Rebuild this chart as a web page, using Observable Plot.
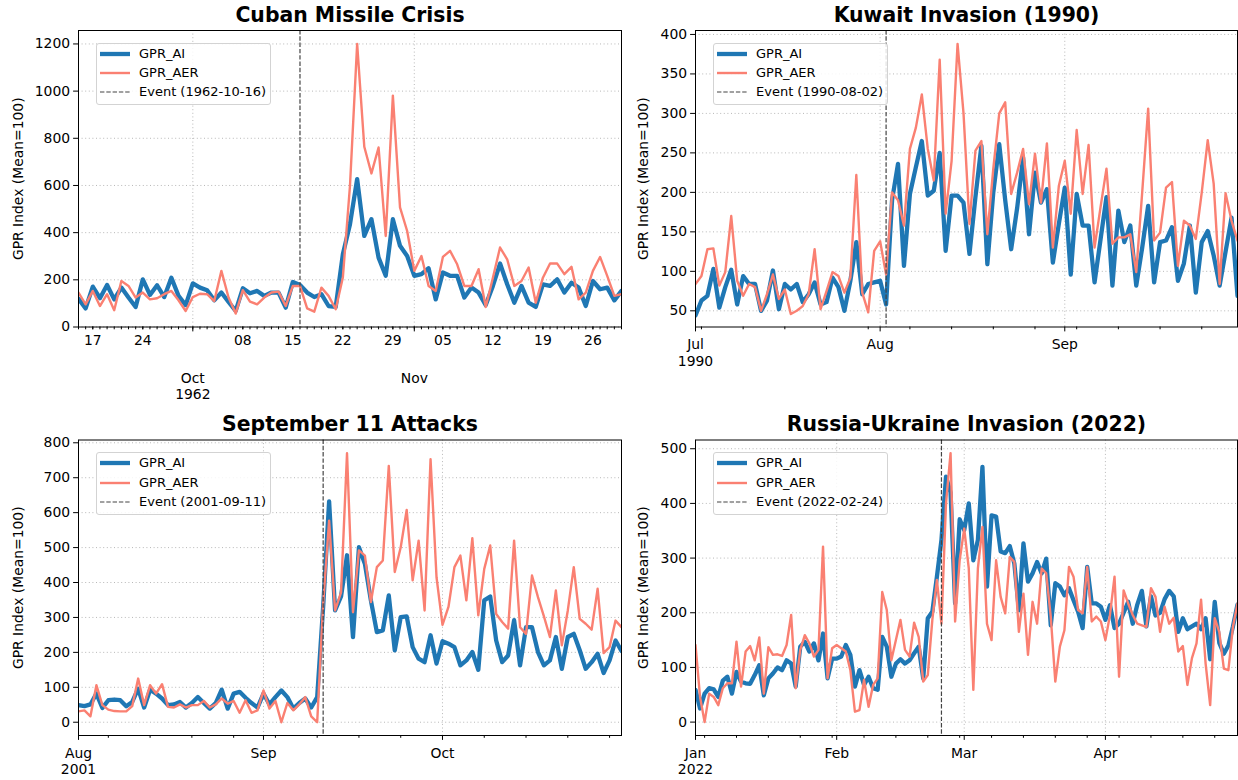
<!DOCTYPE html>
<html>
<head>
<meta charset="utf-8">
<script src="https://cdn.jsdelivr.net/npm/d3@7"></script>
<script src="https://cdn.jsdelivr.net/npm/@observablehq/plot@0.6"></script>
<style>
  body { margin: 0; background: #fff; font-family: "DejaVu Sans", sans-serif; }
  #fig { position: relative; width: 1238px; height: 780px; overflow: hidden; background: #fff; }
  .panel { position: absolute; }
  .legend { position: absolute; background: rgba(255,255,255,0.85); border: 1px solid #d3d3d3; border-radius: 3px; box-sizing: border-box; }
  .legend .row { position: absolute; left: 0; height: 18px; width: 100%; }
  .legend svg { position: absolute; left: 3px; top: 4px; }
  .legend span { position: absolute; left: 42px; top: 0; font-size: 13px; line-height: 18px; color: #000; white-space: nowrap; }
</style>
</head>
<body>
<div id="fig"></div>
<script>
// ---------------- data ----------------
// Cuban Missile Crisis: daily values from 1962-09-15
const cubanStart = "1962-09-15";
const cubanEvent = "1962-10-16";
const cubanAI = [120, 79, 171, 122, 178, 117, 167, 125, 85, 202, 136, 177, 127, 209, 132, 93, 185, 167, 156, 113, 146, 106, 68, 164, 143, 153, 132, 146, 146, 82, 191, 178, 146, 127, 139, 89, 85,
  308, 436, 627, 386, 457, 294, 217, 457, 344, 301, 217, 224, 249, 117, 231, 217, 217, 125, 167, 146, 93, 174, 269, 181, 103, 174, 103, 85, 181, 174, 202, 146, 188, 167, 89, 195, 160, 167, 113, 153];
const cubanAER = [146, 96, 153, 89, 139, 71, 195, 174, 125, 146, 117, 122, 139, 153, 113, 68, 127, 141, 139, 110, 238, 125, 57, 156, 108, 96, 125, 146, 150, 89, 174, 174, 79, 65, 167, 132, 75,
  210, 600, 1200, 764, 651, 761, 386, 981, 507, 407, 238, 301, 174, 153, 297, 323, 266, 174, 174, 245, 85, 209, 337, 287, 174, 195, 252, 103, 209, 269, 269, 224, 255, 117, 146, 238, 297, 217, 132, 139];

// Kuwait Invasion: daily values from 1990-07-01
const kuwaitStart = "1990-07-01";
const kuwaitEvent = "1990-08-02";
const kuwaitAI = [44, 63, 69, 103, 54, 80, 102, 58, 94, 84, 84, 50, 63, 101, 52, 84, 77, 84, 61, 71, 86, 58, 61, 92, 80, 50, 88, 137, 71, 84, 86, 88, 58, 190, 236, 107, 198, 232, 265, 196, 202, 250, 126,
  196, 196, 187, 122, 194, 259, 109, 200, 261, 190, 128, 180, 244, 147, 225, 187, 204, 111, 160, 206, 96, 198, 158, 158, 86, 140, 194, 82, 177, 137, 158, 82, 130, 183, 86, 137, 139, 156, 88, 110, 158, 73, 137, 151, 120, 82, 125, 168, 69];
const kuwaitAER = [84, 94, 128, 129, 82, 99, 170, 88, 69, 84, 80, 50, 71, 96, 65, 77, 46, 50, 56, 71, 128, 52, 75, 99, 94, 73, 92, 222, 73, 48, 126, 138, 96, 200, 190, 158, 255, 282, 324, 255, 215, 368, 173,
  240, 388, 300, 160, 253, 265, 147, 230, 300, 314, 198, 225, 255, 185, 249, 187, 262, 130, 208, 240, 173, 279, 198, 260, 130, 181, 230, 135, 143, 143, 147, 99, 200, 306, 139, 149, 206, 213, 107, 164, 158, 141, 200, 266, 211, 84, 199, 164, 139];

// September 11 Attacks: daily values from 2001-08-01
const sept11Start = "2001-08-01";
const sept11Event = "2001-09-11";
const sept11AI = [49, 46, 51, 82, 41, 63, 65, 63, 46, 58, 96, 42, 93, 82, 68, 49, 51, 58, 42, 55, 72, 55, 39, 55, 93, 39, 82, 87, 70, 55, 42, 82, 51, 72, 91, 72, 39, 55, 68, 42, 72, 330, 632, 320, 360, 478,
  244, 501, 453, 349, 258, 263, 363, 206, 301, 303, 215, 182, 172, 249, 168, 232, 225, 215, 163, 177, 201, 150, 349, 360, 234, 172, 191, 292, 163, 272, 272, 201, 163, 177, 244, 153, 244, 253, 206, 153, 172, 196, 141, 177, 234, 204];
const sept11AER = [31, 34, 17, 106, 49, 36, 32, 31, 31, 46, 125, 49, 106, 82, 109, 44, 42, 51, 42, 49, 49, 61, 42, 51, 68, 53, 61, 27, 63, 27, 34, 91, 39, 61, 0, 55, 34, 51, 72, 17, 0, 339, 577, 320, 372, 770,
  315, 492, 477, 344, 444, 463, 734, 430, 501, 608, 406, 520, 320, 753, 415, 279, 330, 444, 477, 349, 527, 306, 439, 506, 310, 287, 268, 520, 272, 253, 420, 358, 303, 244, 377, 220, 320, 444, 296, 282, 265, 382, 198, 215, 291, 272];

// Russia-Ukraine Invasion: daily values from 2022-01-01
const russiaStart = "2022-01-01";
const russiaEvent = "2022-02-24";
const russiaAI = [59, 25, 52, 62, 60, 46, 76, 83, 52, 92, 74, 71, 70, 86, 104, 49, 80, 89, 100, 95, 113, 107, 65, 138, 147, 129, 144, 113, 162, 80, 116, 116, 120, 141, 123, 65, 95, 68, 83, 62, 59, 156, 138, 83, 107, 115, 107, 113, 126, 138, 80, 190, 202, 266, 333, 449, 420, 217, 371,
  351, 400, 296, 333, 467, 248, 378, 376, 312, 309, 322, 290, 205, 327, 257, 272, 293, 272, 299, 177, 254, 248, 232, 245, 223, 202, 172, 284, 217, 217, 211, 187, 214, 172, 180, 200, 220, 180, 215, 240, 175, 230, 195, 200, 225, 240, 230, 165, 190, 170, 175, 180, 170, 190, 115, 220, 145, 125, 140, 175, 215];
const russiaAER = [141, 46, 0, 52, 46, 31, 62, 71, 71, 147, 65, 129, 139, 113, 155, 52, 137, 123, 124, 121, 141, 196, 62, 132, 159, 144, 120, 132, 321, 80, 135, 141, 135, 129, 95, 19, 22, 77, 28, 68, 80, 238, 205, 113, 150, 187, 132, 120, 182, 156, 74, 86, 187, 260, 180, 400, 492, 184, 296,
  354, 281, 59, 281, 357, 180, 150, 296, 229, 199, 302, 293, 165, 235, 123, 220, 180, 281, 272, 193, 74, 138, 168, 284, 266, 205, 199, 284, 184, 193, 184, 150, 196, 266, 83, 241, 217, 196, 180, 177, 174, 245, 229, 165, 211, 180, 191, 129, 139, 68, 117, 144, 224, 107, 31, 190, 165, 98, 95, 174, 217];

// ---------------- chart ----------------
const BLUE = "#1f77b4", SALMON = "#fa8072", EVENT = "#444444";
const utc = s => new Date(s + "T00:00:00Z");

const panels = [
  {title: "Cuban Missile Crisis", start: cubanStart, event: cubanEvent, ai: cubanAI, aer: cubanAER,
   yDomain: [0, 1257], yTicks: [0, 200, 400, 600, 800, 1000, 1200], daily: true, monthPad: 39,
   box: {left: 0, top: 0, width: 630, height: 410, mt: 30, mb: 83.5, ml: 78, mr: 9}, labelDx: -60},
  {title: "Kuwait Invasion (1990)", start: kuwaitStart, event: kuwaitEvent, ai: kuwaitAI, aer: kuwaitAER,
   yDomain: [29.5, 405], yTicks: [50, 100, 150, 200, 250, 300, 350, 400], daily: false, monthPad: 5.5,
   box: {left: 630, top: 0, width: 608, height: 410, mt: 30, mb: 83.5, ml: 65, mr: 1}, labelDx: -52},
  {title: "September 11 Attacks", start: sept11Start, event: sept11Event, ai: sept11AI, aer: sept11AER,
   yDomain: [-38, 808], yTicks: [0, 100, 200, 300, 400, 500, 600, 700, 800], daily: false, monthPad: 5.5,
   box: {left: 0, top: 410, width: 630, height: 370, mt: 29.5, mb: 45, ml: 78, mr: 9}, labelDx: -60},
  {title: "Russia-Ukraine Invasion (2022)", start: russiaStart, event: russiaEvent, ai: russiaAI, aer: russiaAER,
   yDomain: [-24.5, 516], yTicks: [0, 100, 200, 300, 400, 500], daily: false, monthPad: 5.5,
   box: {left: 630, top: 410, width: 608, height: 370, mt: 29.5, mb: 45, ml: 65, mr: 1}, labelDx: -52}
];

const fig = document.getElementById("fig");
const fmtMon = d3.utcFormat("%b");

function drawPanel(cfg) {
  const s = utc(cfg.start);
  const rows = cfg.ai.map((v, i) => ({date: d3.utcDay.offset(s, i), ai: v, aer: cfg.aer[i]}));
  const x0 = rows[0].date, x1 = rows[rows.length - 1].date;
  const stop = d3.utcDay.offset(x1, 1);
  const months = d3.utcMonth.range(x0, stop);
  const minor = cfg.daily ? d3.utcDay.range(x0, stop) : d3.utcMonday.range(x0, stop);
  const weeks = cfg.daily ? d3.utcMonday.range(x0, stop).filter(d => d.getUTCDate() !== 1) : [];
  const b = cfg.box;
  const gridStyle = {stroke: "#b0b0b0", strokeOpacity: 1, strokeWidth: 0.9, strokeDasharray: "1,2.6"};

  const chart = Plot.plot({
    width: b.width, height: b.height,
    marginTop: b.mt, marginBottom: b.mb, marginLeft: b.ml, marginRight: b.mr,
    style: {fontFamily: "DejaVu Sans, sans-serif", fontSize: "13.9px", color: "#000", background: "#fff", overflow: "visible"},
    x: {type: "utc", domain: [x0, x1]},
    y: {domain: cfg.yDomain},
    marks: [
      Plot.gridY(cfg.yTicks, gridStyle),
      Plot.gridX(months, gridStyle),
      Plot.lineY(rows, {x: "date", y: "ai", stroke: BLUE, strokeWidth: 4.3, clip: true}),
      Plot.lineY(rows, {x: "date", y: "aer", stroke: SALMON, strokeWidth: 2.4, clip: true}),
      Plot.ruleX([utc(cfg.event)], {stroke: EVENT, strokeWidth: 1.2, strokeDasharray: "4.4,1.9"}),
      Plot.frame({stroke: "#000", strokeWidth: 1}),
      Plot.axisY(cfg.yTicks, {tickSize: 4.9, tickPadding: 3.5, tickFormat: "d", label: null}),
      Plot.axisX(minor, {tickSize: 2.8, fill: "none", label: null}),
      cfg.daily ? Plot.axisX(weeks, {tickSize: 2.8, tickPadding: 5, tickFormat: d3.utcFormat("%d"), label: null}) : null,
      Plot.axisX(months, {tickSize: 4.9, tickPadding: cfg.monthPad, lineHeight: 1.2, label: null,
        tickFormat: (d, i) => i === 0 ? fmtMon(d) + "\n" + d.getUTCFullYear() : fmtMon(d)}),
      Plot.text([cfg.title], {text: d => d, frameAnchor: "top", dy: -15.5, fontSize: 20.4, fontWeight: "bold", lineAnchor: "middle", fill: "#000"}),
      Plot.text(["GPR Index (Mean=100)"], {text: d => d, frameAnchor: "left", rotate: -90, dx: cfg.labelDx, fontSize: 13.9, lineAnchor: "middle", textAnchor: "middle", fill: "#000"})
    ]
  });

  const wrap = document.createElement("div");
  wrap.className = "panel";
  wrap.style.left = b.left + "px";
  wrap.style.top = b.top + "px";
  wrap.style.width = b.width + "px";
  wrap.style.height = b.height + "px";
  wrap.appendChild(chart);

  // legend (upper left)
  const leg = document.createElement("div");
  leg.className = "legend";
  leg.style.left = (b.ml + 18) + "px";
  leg.style.top = (b.mt + 12.5) + "px";
  leg.style.width = "175px";
  leg.style.height = "62.5px";
  const entries = [
    {label: "GPR_AI", color: BLUE, w: 4.3, dash: null},
    {label: "GPR_AER", color: SALMON, w: 2.4, dash: null},
    {label: "Event (" + cfg.event + ")", color: EVENT, w: 1.2, dash: "4.4,1.9"}
  ];
  entries.forEach((e, i) => {
    const row = document.createElement("div");
    row.className = "row";
    row.style.top = (1.3 + 19.3 * i) + "px";
    row.innerHTML = `<svg width="30" height="10"><line x1="0" x2="30" y1="5" y2="5" stroke="${e.color}" stroke-width="${e.w}" ${e.dash ? `stroke-dasharray="${e.dash}"` : ""}/></svg><span>${e.label}</span>`;
    leg.appendChild(row);
  });
  wrap.appendChild(leg);
  fig.appendChild(wrap);
}

panels.forEach(drawPanel);
</script>
</body>
</html>
